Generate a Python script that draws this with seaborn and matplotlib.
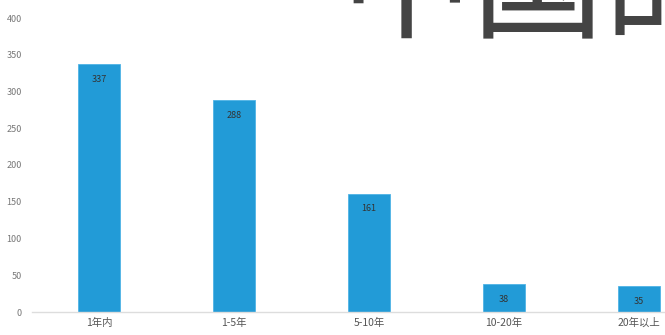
import matplotlib
matplotlib.use("Agg")
import matplotlib.pyplot as plt
import seaborn as sns
import pandas as pd

categories = ["1年内", "1-5年", "5-10年", "10-20年", "20年以上"]
values = [337, 288, 161, 38, 35]
yticks = [0, 50, 100, 150, 200, 250, 300, 350, 400]

sns.set_theme(style="white")
plt.rcParams['font.family'] = ['Noto Sans CJK SC', 'DejaVu Sans']

df = pd.DataFrame({"cat": categories, "val": values})

fig = plt.figure(figsize=(6.65, 3.35), dpi=100)
ax = fig.add_axes([31.5 / 665, 23 / 335, 675 / 665, 294 / 335])
sns.barplot(data=df, x="cat", y="val", color="#229bd7", saturation=1,
            width=0.31, ax=ax, edgecolor="#4fb3e6", linewidth=0.6)

ax.set_ylim(0, 400)
ax.set_xlim(-0.5, 4.5)
ax.set_yticks(yticks)
ax.set_yticklabels([str(t) for t in yticks], fontsize=6.5, color="#777777")
ax.set_xticks(range(len(categories)))
ax.set_xticklabels(categories, fontsize=7.5, color="#555555")
ax.set_xlabel("")
ax.set_ylabel("")
ax.tick_params(axis="y", length=0, pad=7)
ax.tick_params(axis="x", length=0, pad=4)
for s in ["top", "right", "left"]:
    ax.spines[s].set_visible(False)
ax.spines["bottom"].set_color("#dddddd")
ax.spines["bottom"].set_linewidth(1.0)

for i, v in enumerate(values):
    ax.annotate(str(v), (i, v), xytext=(0, -11), textcoords="offset points",
                ha="center", va="center", fontsize=6.5, color="#333333")

fig.text(340 / 665, 1 - 28 / 335, "中国的", fontsize=95, color="#444444",
         ha="left", va="baseline", family=['Noto Sans CJK SC', 'DejaVu Sans'])

fig.savefig("out.png", dpi=100)
